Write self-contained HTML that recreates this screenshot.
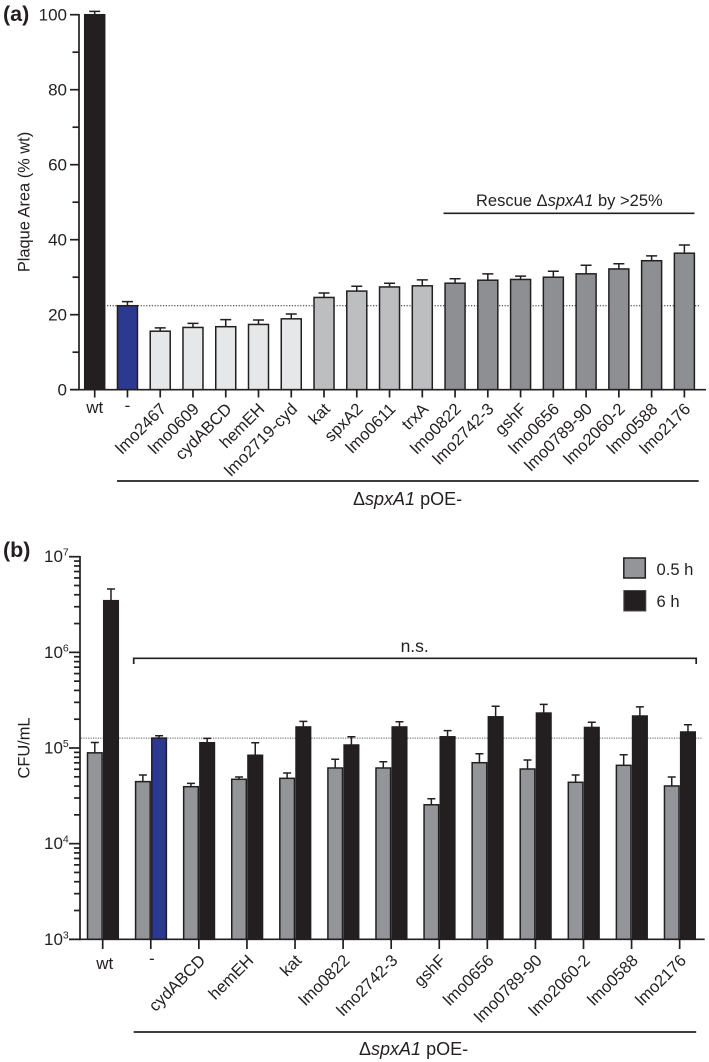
<!DOCTYPE html>
<html>
<head>
<meta charset="utf-8">
<title>Plaque area and CFU charts</title>
<style>
html,body{margin:0;padding:0;background:#fff;}
svg{display:block;}
text{font-family:"Liberation Sans",sans-serif;fill:#231f20;font-size:16.6px;}
</style>
</head>
<body>
<svg id="fig" xmlns="http://www.w3.org/2000/svg" width="709" height="1062" viewBox="0 0 709 1062">
  <text x="3" y="21" style="font-size:21.5px;font-weight:bold">(a)</text>
  <text x="3" y="557" style="font-size:21.5px;font-weight:bold">(b)</text>
  <text transform="translate(29.5,202) rotate(-90)" text-anchor="middle" style="font-size:16.4px">Plaque Area (% wt)</text>
  <text transform="translate(29.5,748) rotate(-90)" text-anchor="middle" style="font-size:16.4px">CFU/mL</text>
  <text x="476" y="206" style="font-size:16.5px">Rescue Δ<tspan font-style="italic">spxA1</tspan> by &gt;25%</text>
  <line x1="443.5" x2="694.5" y1="213.3" y2="213.3" stroke="#231f20" stroke-width="1.7"/>
  <line x1="117" x2="698.7" y1="481" y2="481" stroke="#231f20" stroke-width="1.7"/>
  <text x="353" y="505" style="font-size:18px">Δ<tspan font-style="italic">spxA1</tspan> pOE-</text>
  <path d="M133.7 664V658.3H696.2V664" fill="none" stroke="#231f20" stroke-width="1.7"/>
  <text x="414.7" y="652" text-anchor="middle" style="font-size:17.5px">n.s.</text>
  <line x1="133.7" x2="696.2" y1="1032" y2="1032" stroke="#231f20" stroke-width="1.7"/>
  <text x="359" y="1055" style="font-size:18px">Δ<tspan font-style="italic">spxA1</tspan> pOE-</text>
  <rect x="623.8" y="558" width="21.5" height="20" fill="#939598" stroke="#231f20" stroke-width="1.5"/>
  <text x="656.5" y="575">0.5 h</text>
  <rect x="623.8" y="590.5" width="22" height="20.5" fill="#231f20" stroke="#4a4a4c" stroke-width="1"/>
  <text x="656.5" y="607">6 h</text>
  <g id="chartA"></g>
  <g id="chartB"></g>
</svg>
<script>
// Panel (a) data
const plaqueCategories = ["wt","-","lmo2467","lmo0609","cydABCD","hemEH","lmo2719-cyd","kat","spxA2","lmo0611","trxA","lmo0822","lmo2742-3","gshF","lmo0656","lmo0789-90","lmo2060-2","lmo0588","lmo2176"];
const plaqueValues = [100,22.4,15.6,16.6,16.8,17.4,18.9,24.6,26.3,27.4,27.7,28.4,29.2,29.4,30,30.9,32.2,34.4,36.4];
const plaqueErrorTops = [100.9,23.5,16.5,17.7,18.7,18.6,20.2,25.8,27.6,28.4,29.3,29.6,30.9,30.3,31.6,33.2,33.6,35.7,38.6];
const plaqueGroups = ["wt","ctrl","low","low","low","low","low","mid","mid","mid","mid","high","high","high","high","high","high","high","high"];
const plaqueTicks = [0,20,40,60,80,100];
const plaqueMinorTicks = [10,30,50,70,90];
const plaqueReference = 22.4;

// Panel (b) data
const cfuCategories = ["wt","-","cydABCD","hemEH","kat","lmo0822","lmo2742-3","gshF","lmo0656","lmo0789-90","lmo2060-2","lmo0588","lmo2176"];
const cfuEarly = [89000,44500,39400,47100,48200,61800,61800,25500,70200,60300,43800,65900,40100];
const cfuEarlyErrorTops = [114000,52200,42700,49700,54800,76200,71900,29500,87200,75000,52200,85100,49700];
const cfuLate = [3470000,127000,113500,84000,166000,107500,166000,131000,212000,232000,164000,216000,147000];
const cfuLateErrorTops = [4590000,134500,126000,113500,190000,131000,188000,152000,273000,286000,186000,269000,175000];
const cfuTickExponents = [3,4,5,6,7];
const cfuReference = 127000;

const INK = "#231f20";
const NS = "http://www.w3.org/2000/svg";
const groupFill = {wt:"#231f20",ctrl:"#2b3990",low:"#e6e7e8",mid:"#bcbec0",high:"#8d8f92"};

function mk(parent, tag, attrs, txt) {
  const el = document.createElementNS(NS, tag);
  for (const k in attrs) el.setAttribute(k, attrs[k]);
  if (txt !== undefined) el.textContent = txt;
  parent.appendChild(el);
  return el;
}

function drawBar(g, name, x0, w, yTop, yBase, yErr, capW, fill, stroke) {
  const cx = x0 + w / 2;
  const err = mk(g, "path", {d:"M"+(cx-capW/2)+" "+yErr+"H"+(cx+capW/2)+"M"+cx+" "+yErr+"V"+yTop, fill:"none", stroke:INK, "stroke-width":1.5});
  
  
  const r = mk(g, "rect", {x:x0, y:yTop, width:w, height:yBase-yTop, fill:fill, stroke:stroke, "stroke-width":1.5});
  
  
}

function catLabel(g, text, x, y, rotated) {
  const t = mk(g, "text", rotated
    ? {transform:"translate("+x+","+y+") rotate(-45)", "text-anchor":"end"}
    : {x:x, y:y, "text-anchor":"middle", style:"font-size:17px"}, text);
  
  
}

function tickLine(g, x1, y1, x2, y2, name) {
  const l = mk(g, "line", {x1:x1, y1:y1, x2:x2, y2:y2, stroke:INK, "stroke-width":1.7});
  
  
}

/* ---------- Panel (a) ---------- */
(function () {
  const g = document.getElementById("chartA");
  const yScale = v => 389.7 - v * 3.75;
  const xScale = i => 94.7 + i * 32.76;
  const ref = mk(g, "line", {x1:107, x2:700.7, y1:yScale(plaqueReference), y2:yScale(plaqueReference), stroke:INK, "stroke-width":1, "stroke-dasharray":"1.2 1.6"});
  
  
  plaqueCategories.forEach((c, i) => {
    const x = xScale(i);
    const grp = plaqueGroups[i];
    drawBar(g, "bar-a-" + c, x - 10, 20, yScale(plaqueValues[i]), yScale(0), yScale(plaqueErrorTops[i]), 11, groupFill[grp], INK);
    tickLine(g, x, yScale(0), x, 397.5, "x-tick-a-" + c);
    if (i < 2) catLabel(g, c, x, i === 0 ? 413 : 411, false);
    else catLabel(g, c, x + 7, 410, true);
  });
  tickLine(g, 79, 14, 79, 390.5, "y-axis-a");
  tickLine(g, 70, yScale(0), 706, yScale(0), "x-axis-a");
  plaqueTicks.forEach(t => {
    tickLine(g, 70, yScale(t), 79, yScale(t), "y-tick-a-" + t);
    const lab = mk(g, "text", {x:67, y:yScale(t) + 6, "text-anchor":"end", style:"font-size:17px"}, String(t));
    
    
  });
  plaqueMinorTicks.forEach(t => {
    tickLine(g, 72.5, yScale(t), 79, yScale(t), "y-minor-tick-a-" + t);
  });
})();

/* ---------- Panel (b) ---------- */
(function () {
  const g = document.getElementById("chartB");
  const yScale = v => 939.3 - (Math.log10(v) - 3) * 95.65;
  const xScale = i => 102.7 + i * 48.08;
  const base = yScale(1000);
  const ref = mk(g, "line", {x1:81, x2:702.7, y1:yScale(cfuReference), y2:yScale(cfuReference), stroke:"#58595b", "stroke-width":1, "stroke-dasharray":"1.2 1.2"});
  
  
  cfuCategories.forEach((c, i) => {
    const x = xScale(i);
    drawBar(g, "bar-b-early-" + c, x - 15.2, 14.6, yScale(cfuEarly[i]), base, yScale(cfuEarlyErrorTops[i]), 8, "#939598", INK);
    drawBar(g, "bar-b-late-" + c, x + 1, 14.6, yScale(cfuLate[i]), base, yScale(cfuLateErrorTops[i]), 8, i === 1 ? "#2b3990" : "#231f20", INK);
    tickLine(g, x, base, x, 949, "x-tick-b-" + c);
    if (i === 0) catLabel(g, c, x + 2, 969, false);
    else if (i === 1) catLabel(g, c, x + 1, 964, false);
    else catLabel(g, c, x + 7.5, 961.5, true);
  });
  tickLine(g, 80, 556, 80, 940.2, "y-axis-b");
  tickLine(g, 69, base, 704.7, base, "x-axis-b");
  cfuTickExponents.forEach(e => {
    const y = yScale(Math.pow(10, e));
    tickLine(g, 69, y, 80, y, "y-tick-b-" + e);
    const lab = mk(g, "text", {x:44, y:y + 5.5, style:"font-size:17px"});
    
    
    mk(lab, "tspan", {}, "10");
    mk(lab, "tspan", {dy:-6.5, style:"font-size:10.5px"}, String(e));
    if (e < 7) {
      for (let m = 2; m <= 9; m++) {
        const my = yScale(m * Math.pow(10, e));
        tickLine(g, 74, my, 80, my, "y-minor-tick-b-" + e + "-" + m);
      }
    }
  });
})();
</script>
</body>
</html>
